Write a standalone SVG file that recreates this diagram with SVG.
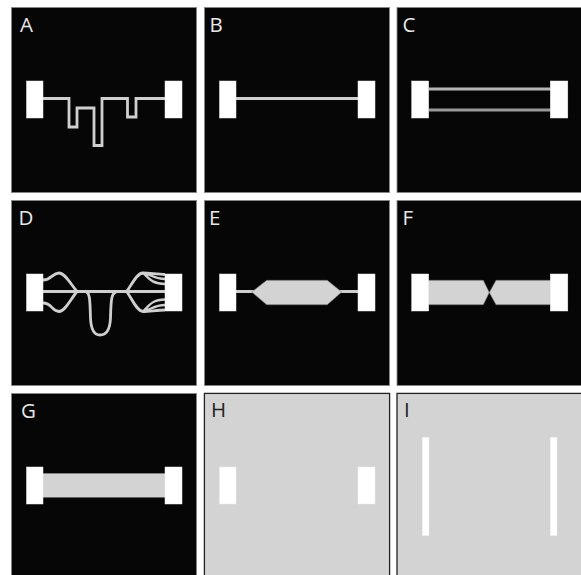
<svg xmlns="http://www.w3.org/2000/svg" width="581" height="575" viewBox="0 0 581 575">
<style>
.d{fill:#060606;stroke:#8c8c8c;stroke-width:.8}
.l{fill:#d3d3d3;stroke:#222;stroke-width:1.3}
.w{fill:none;stroke:#cfcfcf;stroke-width:2.8;stroke-linejoin:miter}
.t{stroke-width:2.3}
.f{fill:#d3d3d3;stroke:#777;stroke-width:.6}
.b{fill:#fff;stroke:#eee;stroke-width:.5}
text{font-family:"Open Sans","Liberation Sans",sans-serif;font-size:20.500px;fill:#e8e8e8}
.k{fill:#222}
</style>
<rect width="581" height="575" fill="#fff"/>
<g id="panels">
<rect class="d" x="11.400" y="7.400" width="185.200" height="185.200"/>
<rect class="d" x="204.400" y="7.400" width="185.200" height="185.200"/>
<rect class="d" x="397" y="7.400" width="190" height="185.200"/>
<rect class="d" x="11.400" y="200.400" width="185.200" height="185.200"/>
<rect class="d" x="204.400" y="200.400" width="185.200" height="185.200"/>
<rect class="d" x="397" y="200.400" width="190" height="185.200"/>
<rect class="d" x="11.400" y="393.400" width="185.200" height="190"/>
<rect class="l" x="204.400" y="393.400" width="185.200" height="190"/>
<rect class="l" x="397" y="393.400" width="190" height="190"/>
</g>
<g id="connectors">
<path class="w" d="M43 98.500H69V127H77V108H94V145.500H102V98.500H127.500V117H136V98.500H165"/>
<path class="w" d="M236 98.500H358"/>
<path d="M429 89H551" fill="none" stroke="#b5b5b5" stroke-width="2.800"/>
<path d="M429 110H551" fill="none" stroke="#999" stroke-width="2.800"/>
<path class="w" d="M43 291.500H165"/>
<path class="w" d="M43 280C52 280 52 273 59 273C65 273 70 283 77 291.500C70 300 65 311.500 59 311.500C52 311.500 52 303 43 303"/>
<path class="w" d="M85 291.500C90 291.500 90 300 90.500 318C91 330 95 335 100 335C106 335 110 330 110.500 318C111 300 111 291.500 118 291.500"/>
<path class="w" d="M126.700 291.500C132 284 137 273 143 273C150 273 157 274.500 165 274.500"/>
<path class="w" d="M126.700 291.500C132 299 137 311.500 143 311.500C150 311.500 157 310 165 310"/>
<path class="w t" d="M143 273C151 274 154 279 165 279M143 273C148 277 151 284 165 284"/>
<path class="w t" d="M143 311.500C151 310 154 305 165 305M143 311.500C148 307 151 299.500 165 299.500"/>
<path class="w" d="M236 291.500H358"/>
<path class="f" d="M251.700 292L266.700 280.300H327.300L341.700 292L327.300 304.700H266.700Z"/>
<path class="f" d="M428 280.300H483.300L489.300 292.500L483.300 304.700H428Z"/>
<path class="f" d="M551 280.300H496L489.300 292.500L496 304.700H551Z"/>
<rect class="f" x="42" y="473.300" width="124" height="24"/>
</g>
<g id="nodes">
<g id="node-a"><rect class="b" x="26.500" y="81" width="16.500" height="37"/><rect class="b" x="165" y="81" width="17" height="37"/><text x="20" y="32">A</text></g>
<g id="node-b"><rect class="b" x="219.500" y="81" width="16.500" height="37"/><rect class="b" x="358" y="81" width="17" height="37"/><text x="209.500" y="32">B</text></g>
<g id="node-c"><rect class="b" x="411.700" y="81" width="17" height="37"/><rect class="b" x="550.300" y="81" width="17.500" height="37"/><text x="402.500" y="32">C</text></g>
<g id="node-d"><rect class="b" x="26.500" y="274" width="16.500" height="37"/><rect class="b" x="165" y="274" width="17" height="37"/><text x="18.500" y="224.500">D</text></g>
<g id="node-e"><rect class="b" x="219.500" y="274" width="16.500" height="37"/><rect class="b" x="358" y="274" width="17" height="37"/><text x="209" y="224.500">E</text></g>
<g id="node-f"><rect class="b" x="411.700" y="274" width="17" height="37"/><rect class="b" x="550.300" y="274" width="17.500" height="37"/><text x="402.500" y="224.500">F</text></g>
<g id="node-g"><rect class="b" x="26.500" y="467" width="16.500" height="37"/><rect class="b" x="165" y="467" width="17" height="37"/><text x="21" y="417.500">G</text></g>
<g id="node-h"><rect class="b" x="219.500" y="467" width="16.500" height="37"/><rect class="b" x="358" y="467" width="17" height="37"/><text class="k" x="211" y="417">H</text></g>
<g id="node-i"><rect class="b" x="422.300" y="437.300" width="6.700" height="98.400"/><rect class="b" x="550.300" y="437.300" width="6.700" height="98.400"/><text class="k" x="404" y="417">I</text></g>
</g>
</svg>
